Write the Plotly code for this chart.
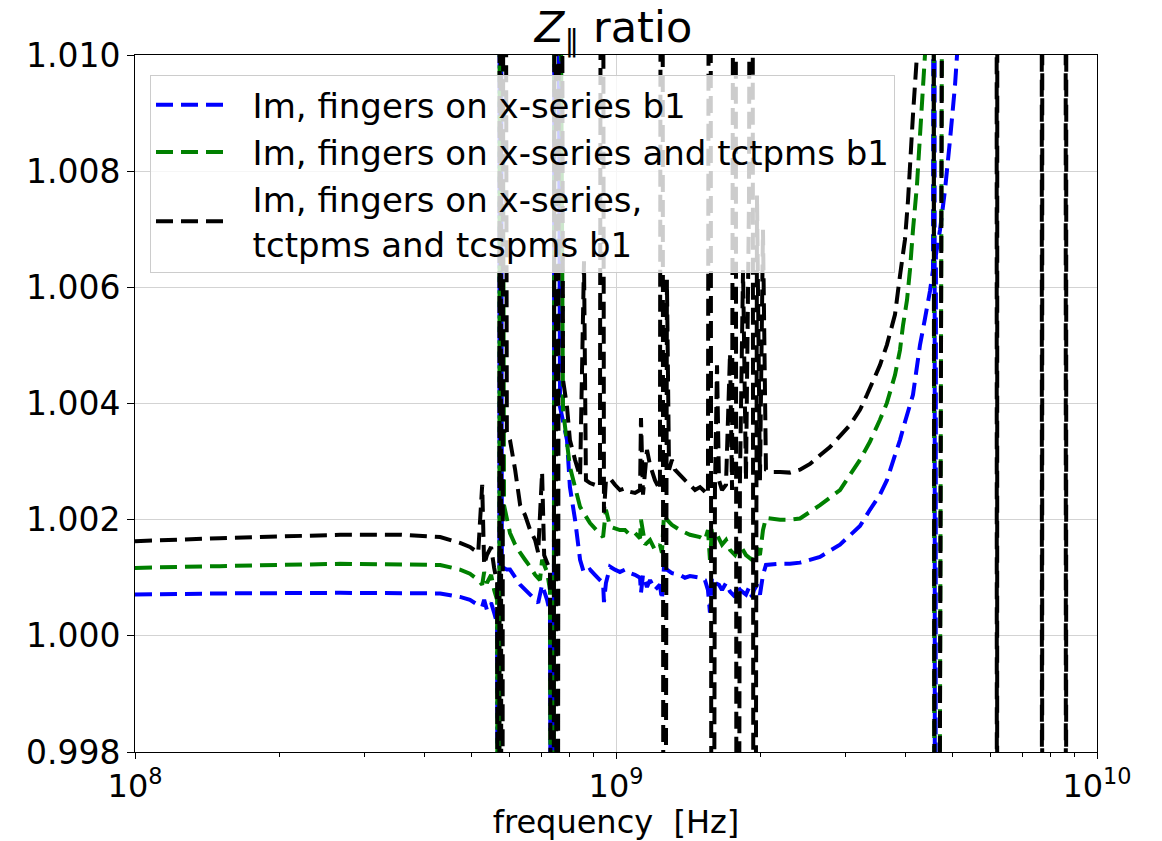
import plotly.graph_objects as go

HI = 1.03   # value far above the visible range (resonance going off-chart)
LO = 0.98   # value far below the visible range

freq_blue = [1.00e8, 1.50e8, 2.67e8, 4.31e8, 4.74e8, 4.97e8, 5.17e8, 5.27e8, 5.32e8, 5.39e8,
             5.50e8, 5.58e8, 5.66e8, 5.71e8, 5.74e8, 5.79e8, 5.93e8, 6.02e8, 6.32e8, 6.63e8,
             6.89e8, 7.02e8, 7.19e8, 7.29e8, 7.40e8, 7.47e8, 7.65e8, 7.91e8, 8.02e8, 8.22e8,
             8.42e8, 8.58e8, 8.83e8, 9.04e8, 9.26e8, 9.40e8, 9.44e8, 9.53e8, 9.72e8, 9.95e8,
             1.019e9, 1.044e9, 1.069e9, 1.095e9, 1.122e9, 1.127e9, 1.138e9, 1.160e9, 1.177e9, 1.205e9,
             1.234e9, 1.246e9, 1.258e9, 1.276e9, 1.307e9, 1.358e9, 1.391e9, 1.425e9, 1.495e9, 1.531e9,
             1.553e9, 1.568e9, 1.583e9, 1.606e9, 1.637e9, 1.661e9, 1.693e9, 1.726e9, 1.768e9, 1.785e9,
             1.810e9, 1.863e9, 1.890e9, 1.917e9, 1.936e9, 1.964e9, 1.992e9, 2.021e9, 2.050e9, 2.193e9,
             2.300e9, 2.413e9, 2.655e9, 2.922e9, 3.215e9, 3.372e9, 3.538e9, 3.658e9, 3.802e9, 3.894e9,
             3.988e9, 4.144e9, 4.286e9, 4.389e9, 4.496e9, 4.561e9, 4.590e9, 4.605e9, 4.625e9, 4.717e9,
             4.831e9, 4.948e9, 5.068e9, 5.117e9, 5.191e9, 1.0e10]
val_blue = [1.00071, 1.00073, 1.00074, 1.00073, 1.00067, 1.00062, 1.00053, 1.00050, 1.00062, 1.00045,
            1.00057, 1.00040, 1.00022, LO, HI, 1.00119, 1.00114, 1.00114, 1.00088, 1.00071,
            1.00057, 1.00088, 1.00062, 1.00040, LO, HI, 1.00394, 1.00337, 1.00256, 1.00200,
            1.00131, 1.00108, 1.00114, 1.00105, 1.00096, 1.00091, 1.00058, 1.00091, 1.00119, 1.00114,
            1.00110, 1.00114, 1.00108, 1.00105, 1.00100, 1.00074, 1.00105, 1.00084, 1.00096, 1.00079,
            1.00088, 1.00062, 1.00119, 1.00114, 1.00108, 1.00105, 1.00100, 1.00103, 1.00100, 1.00096,
            1.00079, 1.00040, 1.00100, 1.00091, 1.00088, 1.00079, 1.00091, 1.00076, 1.00067, 1.00088,
            1.00079, 1.00071, 1.00083, 1.00067, 1.00079, 1.00088, 1.00071, 1.00105, 1.00122, 1.00124,
            1.00124, 1.00126, 1.00136, 1.00157, 1.00189, 1.00217, 1.00243, 1.00268, 1.00311, 1.00337,
            1.00368, 1.00415, 1.00501, 1.00546, 1.00594, 1.00630, HI, LO, 1.00656, 1.00699,
            1.00768, 1.00854, 1.00948, 1.01000, HI, HI]

freq_green = [1.00e8, 1.50e8, 2.67e8, 4.31e8, 4.74e8, 4.97e8, 5.17e8, 5.27e8, 5.32e8, 5.39e8,
              5.50e8, 5.58e8, 5.66e8, 5.71e8, 5.74e8, 5.85e8, 6.02e8, 6.17e8, 6.32e8, 6.47e8,
              6.63e8, 6.79e8, 6.95e8, 7.02e8, 7.19e8, 7.29e8, 7.40e8, 7.47e8, 7.76e8, 8.02e8,
              8.42e8, 8.83e8, 9.40e8, 9.53e8, 9.72e8, 1.019e9, 1.044e9, 1.069e9, 1.095e9, 1.122e9,
              1.127e9, 1.150e9, 1.177e9, 1.205e9, 1.234e9, 1.246e9, 1.258e9, 1.276e9, 1.307e9, 1.358e9,
              1.425e9, 1.495e9, 1.531e9, 1.553e9, 1.568e9, 1.583e9, 1.622e9, 1.661e9, 1.693e9, 1.726e9,
              1.768e9, 1.810e9, 1.863e9, 1.917e9, 1.964e9, 1.992e9, 2.021e9, 2.050e9, 2.193e9, 2.300e9,
              2.413e9, 2.655e9, 2.922e9, 3.215e9, 3.372e9, 3.538e9, 3.658e9, 3.802e9, 3.894e9, 3.950e9,
              4.027e9, 4.085e9, 4.144e9, 4.224e9, 4.286e9, 4.389e9, 4.450e9, 4.560e9, 4.605e9, 4.650e9,
              4.830e9, 1.0e10]
val_green = [1.00117, 1.00120, 1.00124, 1.00122, 1.00114, 1.00107, 1.00096, 1.00088, 1.00110, 1.00091,
             1.00105, 1.00079, 1.00062, LO, HI, 1.00225, 1.00177, 1.00157, 1.00143, 1.00131,
             1.00119, 1.00105, 1.00096, 1.00131, 1.00110, 1.00079, LO, HI, 1.00389, 1.00291,
             1.00222, 1.00194, 1.00170, 1.00217, 1.00188, 1.00182, 1.00182, 1.00174, 1.00177, 1.00168,
             1.00200, 1.00157, 1.00165, 1.00148, 1.00157, 1.00143, 1.00208, 1.00200, 1.00191, 1.00182,
             1.00174, 1.00170, 1.00165, 1.00182, 1.00131, 1.00182, 1.00174, 1.00157, 1.00165, 1.00148,
             1.00139, 1.00157, 1.00139, 1.00131, 1.00151, 1.00139, 1.00182, 1.00203, 1.00200, 1.00200,
             1.00202, 1.00225, 1.00251, 1.00303, 1.00334, 1.00372, 1.00401, 1.00449, 1.00492, 1.00534,
             1.00578, 1.00630, 1.00699, 1.00776, 1.00862, 1.01000, HI, HI, LO, LO,
             HI, HI]

freq_black = [1.00e8, 1.50e8, 2.67e8, 3.56e8, 4.31e8, 4.74e8, 4.97e8, 5.17e8, 5.27e8, 5.32e8,
              5.39e8, 5.50e8, 5.58e8, 5.66e8, 5.71e8, 5.74e8, 5.79e8, 5.85e8, 5.93e8, 6.02e8,
              6.17e8, 6.32e8, 6.47e8, 6.63e8, 6.79e8, 6.89e8, 7.02e8, 7.09e8, 7.19e8, 7.29e8,
              7.40e8, 7.47e8, 7.54e8, 7.65e8, 7.76e8, 7.91e8, 8.02e8, 8.22e8, 8.42e8, 8.58e8,
              8.66e8, 8.83e8, 9.04e8, 9.26e8, 9.35e8, 9.44e8, 9.53e8, 9.72e8, 9.95e8, 1.019e9,
              1.044e9, 1.069e9, 1.095e9, 1.122e9, 1.127e9, 1.138e9, 1.160e9, 1.177e9, 1.205e9, 1.234e9,
              1.246e9, 1.258e9, 1.276e9, 1.289e9, 1.307e9, 1.326e9, 1.358e9, 1.391e9, 1.425e9, 1.460e9,
              1.495e9, 1.531e9, 1.553e9, 1.568e9, 1.583e9, 1.606e9, 1.622e9, 1.637e9, 1.661e9, 1.693e9,
              1.726e9, 1.743e9, 1.768e9, 1.785e9, 1.810e9, 1.837e9, 1.863e9, 1.890e9, 1.917e9, 1.936e9,
              1.964e9, 1.992e9, 2.021e9, 2.050e9, 2.090e9, 2.193e9, 2.300e9, 2.413e9, 2.531e9, 2.655e9,
              2.785e9, 3.065e9, 3.215e9, 3.325e9, 3.538e9, 3.658e9, 3.802e9, 3.894e9, 3.988e9, 4.047e9,
              4.144e9, 4.224e9, 4.286e9, 4.560e9, 4.605e9, 4.650e9, 4.830e9, 6.180e9, 6.195e9, 6.210e9,
              7.670e9, 7.687e9, 7.700e9, 8.600e9, 8.620e9, 8.640e9, 1.0e10]
val_black = [1.00163, 1.00168, 1.00174, 1.00174, 1.00170, 1.00160, 1.00153, 1.00143, 1.00260, 1.00122,
             1.00139, 1.00153, 1.00117, 1.00091, LO, HI, LO, HI, 1.00351, 1.00337,
             1.00286, 1.00225, 1.00208, 1.00182, 1.00165, 1.00143, 1.00282, 1.00139, 1.00126, 1.00114,
             LO, HI, LO, HI, 1.00441, 1.00394, 1.00337, 1.00303, 1.00274, 1.00645,
             1.00268, 1.00263, 1.00260, 1.00256, HI, 1.00212, 1.00268, 1.00271, 1.00260, 1.00251,
             1.00254, 1.00248, 1.00246, 1.00251, 1.00375, 1.00243, 1.00320, 1.00294, 1.00268, 1.00251,
             HI, LO, 1.00613, 1.00286, 1.00303, 1.00286, 1.00277, 1.00268, 1.00260, 1.00251,
             1.00256, 1.00248, 1.00243, HI, LO, 1.00251, 1.00466, 1.00268, 1.00251, 1.00260,
             1.00487, 1.00251, HI, LO, 1.00268, 1.00630, 1.00268, 1.00750, HI, LO,
             1.00758, 1.00268, 1.00699, 1.00286, 1.00282, 1.00282, 1.00281, 1.00286, 1.00296, 1.00311,
             1.00325, 1.00363, 1.00389, 1.00415, 1.00466, 1.00501, 1.00553, 1.00620, 1.00682, 1.00750,
             1.00897, 1.01000, HI, HI, LO, LO, HI, HI, LO, HI,
             HI, LO, HI, HI, LO, HI, HI]

series_names = ["\u00a0\u00a0Im, fingers on x-series b1",
                "\u00a0\u00a0Im, fingers on x-series and tctpms b1",
                "\u00a0\u00a0Im, fingers on x-series,<br>\u00a0\u00a0tctpms and tcspms b1"]
series_colors = ["#0000ff", "#008000", "#000000"]

x_major = [1e8, 1e9, 1e10]
x_major_text = ["10<sup>8</sup>", "10<sup>9</sup>", "10<sup>10</sup>"]
x_minor = [2e8, 3e8, 4e8, 5e8, 6e8, 7e8, 8e8, 9e8, 2e9, 3e9, 4e9, 5e9, 6e9, 7e9, 8e9, 9e9]

fig = go.Figure()
for f, v, name, color in zip([freq_blue, freq_green, freq_black],
                             [val_blue, val_green, val_black],
                             series_names, series_colors):
    fig.add_trace(go.Scatter(x=f, y=v, mode="lines", name=name,
                             line=dict(color=color, width=4, dash="17px,8px", simplify=False)))

fig.update_layout(
    width=1162, height=841,
    margin=dict(l=135, r=65, t=55, b=89),
    plot_bgcolor="white", paper_bgcolor="white",
    font=dict(family="DejaVu Sans", size=32, color="black"),
    title=dict(text="<i>Z</i><sub>∥</sub> ratio", x=0.528, xanchor="center",
               y=0.968, yanchor="middle", yref="container", font=dict(size=43)),
    legend=dict(x=0.0156, y=0.971, xanchor="left", yanchor="top",
                bgcolor="rgba(255,255,255,0.8)", bordercolor="#cccccc", borderwidth=1,
                font=dict(size=34), itemwidth=70),
    showlegend=True,
)
fig.update_xaxes(type="log", range=[8, 10], tickvals=x_major, ticktext=x_major_text,
                 ticks="outside", ticklen=6, tickwidth=1, tickcolor="black",
                 showline=True, linecolor="black", linewidth=1, mirror=True,
                 showgrid=True, gridcolor="#d3d3d3", gridwidth=1, zeroline=False,
                 minor=dict(tickvals=x_minor, ticks="outside", ticklen=4, tickcolor="black", showgrid=False),
                 tickfont=dict(size=32), automargin=False,
                 title=dict(text="frequency\u00a0 [Hz]", font=dict(size=32), standoff=12))
fig.update_yaxes(range=[0.998, 1.010], dtick=0.002, tick0=0.998, tickformat=".3f",
                 ticks="outside", ticklen=7, tickwidth=1, tickcolor="black",
                 showline=True, linecolor="black", linewidth=1, mirror=True,
                 showgrid=True, gridcolor="#d3d3d3", gridwidth=1, zeroline=False,
                 tickfont=dict(size=33), automargin=False)

fig.write_html("out.html")
